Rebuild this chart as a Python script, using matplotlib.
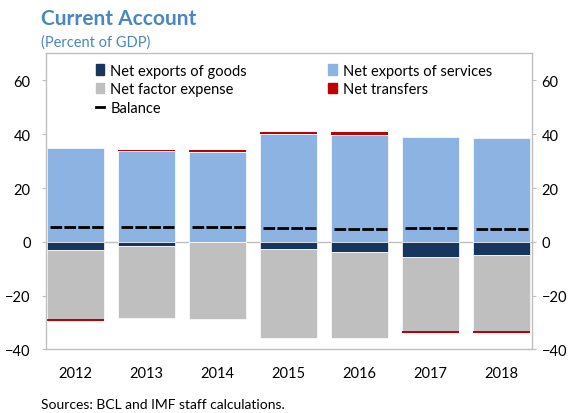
import numpy as np
import matplotlib.pyplot as plt
import matplotlib.transforms as mtransforms
from matplotlib.patches import Patch
from matplotlib.lines import Line2D

plt.rcParams["font.family"] = ["Lato", "DejaVu Sans"]

# =====================
# 数据（占GDP百分比）
# =====================
years = ["2012", "2013", "2014", "2015", "2016", "2017", "2018"]
goods = [-3.1, -1.5, -0.2, -2.5, -3.7, -5.6, -4.7]
services = [34.9, 33.6, 33.5, 39.9, 39.6, 38.9, 38.5]
factor = [-25.6, -26.8, -28.5, -33.3, -32.1, -27.7, -28.3]
transfers = [-0.6, 0.4, 0.6, 1.0, 1.1, -0.6, -0.7]
balance = [5.6, 5.7, 5.4, 5.1, 4.9, 5.0, 4.9]

c_goods = "#17365d"
c_serv = "#8db3e2"
c_factor = "#bfbfbf"
c_trans = "#c00000"
c_title = "#4a86c0"
c_axis = "#bfbfbf"

fig = plt.figure(figsize=(5.7, 4.14), dpi=100)
ax = fig.add_axes([0.0807, 0.1534, 0.8526, 0.715])

x = np.arange(len(years))
w = 0.8
goods = np.array(goods)
services = np.array(services)
factor = np.array(factor)
transfers = np.array(transfers)

# =====================
# 堆叠柱状图
# =====================
ec = dict(edgecolor="white", linewidth=0.5)
ax.bar(x, services, w, color=c_serv, **ec)
ax.bar(x, goods, w, color=c_goods, **ec)
ax.bar(x, factor, w, bottom=goods, color=c_factor, **ec)
# 净转移：正值叠在服务上方，负值叠在要素支出下方
pos_t = np.where(transfers > 0, transfers, 0)
neg_t = np.where(transfers < 0, transfers, 0)
ax.bar(x, pos_t, w, bottom=services, color=c_trans, linewidth=0)
ax.bar(x, neg_t, w, bottom=goods + factor, color=c_trans, linewidth=0)

# 经常账户余额：虚线
ax.hlines(balance, x - w / 2 + 0.04, x + w / 2 - 0.02, colors="black",
          linewidth=2, linestyles=(0, (4.2, 0.8)), zorder=5)

ax.axhline(0, color=c_axis, linewidth=1, zorder=0.5)

# =====================
# 坐标轴
# =====================
ax.set_xlim(-0.42, 6.43)
ax.set_ylim(-40, 70)
ax.set_yticks([-40, -20, 0, 20, 40, 60])
ax.set_xticks(x)
ax.set_xticklabels(years)
ax.tick_params(axis="x", length=0, pad=12, labelsize=10.5)
ax.tick_params(axis="y", direction="out", length=3, color=c_axis, pad=8,
               labelsize=10.5, left=True, right=True, labelleft=True, labelright=True)
# 右侧刻度标签靠近坐标轴
offset = mtransforms.ScaledTranslation(-4 / 72, 0, fig.dpi_scale_trans)
for t in ax.yaxis.get_major_ticks():
    t.label2.set_transform(t.label2.get_transform() + offset)

for s in ax.spines.values():
    s.set_color(c_axis)
    s.set_linewidth(1)

handles = [
    Patch(color=c_goods, label="Net exports of goods"),
    Patch(color=c_factor, label="Net factor expense"),
    Line2D([0], [0], color="black", lw=2, label="Balance"),
    Patch(color=c_serv, label="Net exports of services"),
    Patch(color=c_trans, label="Net transfers"),
]
ax.legend(handles=handles, ncol=2, loc="upper left", bbox_to_anchor=(0.075, 1.01),
          frameon=False, fontsize=10.5, handlelength=0.6, handleheight=0.7,
          handletextpad=0.4, labelspacing=0.32, columnspacing=5.6)

fig.text(0.072, 0.955, "Current Account", fontsize=15, fontweight="bold",
         color=c_title, va="center")
fig.text(0.072, 0.898, "(Percent of GDP)", fontsize=10.5, color=c_title, va="center")
fig.text(0.072, 0.022, "Sources: BCL and IMF staff calculations.", fontsize=10, va="center")

plt.savefig("out.png", dpi=100)
